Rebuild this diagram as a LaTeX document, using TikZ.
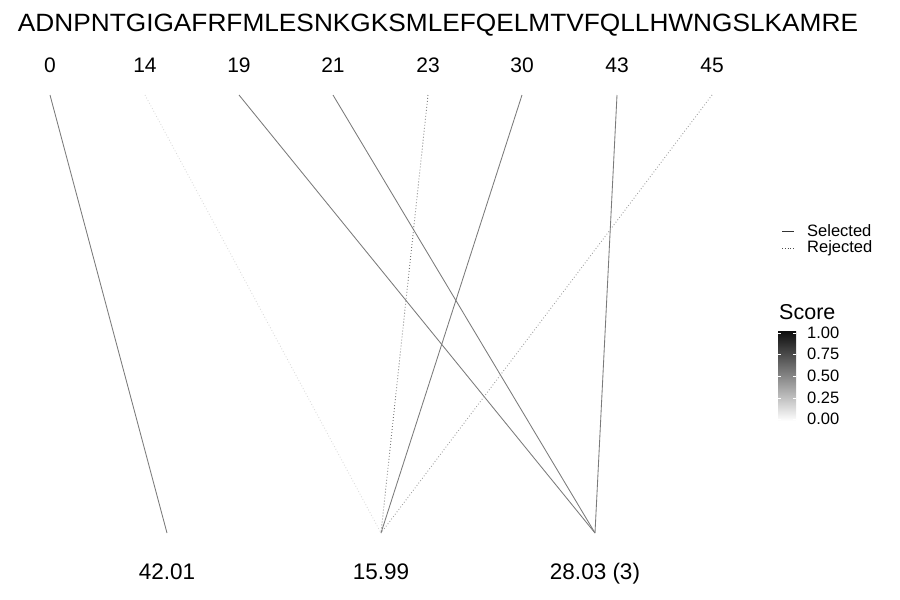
\documentclass[tikz,border=0pt]{standalone}
\usepackage{fontspec}
\setmainfont{Liberation Sans}
\begin{document}
\begin{tikzpicture}[x=1pt,y=-1pt,
  seltxt/.style={font=\fontsize{21}{24}\selectfont, inner sep=0pt, anchor=base},
  bottxt/.style={font=\fontsize{22.5}{24}\selectfont, inner sep=0pt, anchor=base},
  seqtxt/.style={font=\fontsize{25}{28}\selectfont, inner sep=0pt, anchor=base},
  legtxt/.style={font=\fontsize{16.5}{17}\selectfont, inner sep=0pt, anchor=west},
  sel/.style={line width=0.85pt},
  rej/.style={line width=0.9pt, dash pattern=on 0.8pt off 2.2pt}]
\useasboundingbox (0,0) rectangle (900,600);
\node[seqtxt, xscale=1.05] (seq) at (438,31) {ADNPNTGIGAFRFMLESNKGKSMLEFQELMTVFQLLHWNGSLKAMRE};
% top labels
\foreach \n/\x in {0/50,14/145,19/239,21/333,23/428,30/522,43/617,45/712}{
  \node[seltxt] (l\n) at (\x,72) {\n};
  \coordinate (t\n) at (\x,95);
}
% bottom
\node[bottxt] (b1) at (167,579) {42.01};
\node[bottxt] (b2) at (381,579) {15.99};
\node[bottxt] (b3) at (595,579) {28.03 (3)};
\coordinate (c1) at (167,533);
\coordinate (c2) at (381,533);
\coordinate (c3) at (595,533);
% connectors
\draw[sel, draw=black!52] (t0) -- (c1);
\draw[rej, draw=black!15] (t14) -- (c2);
\draw[sel, draw=black!52] (t19) -- (c3);
\draw[sel, draw=black!52] (t21) -- (c3);
\draw[rej, draw=black!55] (t23) -- (c2);
\draw[sel, draw=black!52] (t30) -- (c2);
\draw[sel, draw=black!52] (t43) -- (c3);
\draw[rej, draw=black!40] (t45) -- (c2);
% legend
\coordinate (ls1) at (782,231);
\coordinate (le1) at (794,231);
\coordinate (ls2) at (782,248);
\coordinate (le2) at (794,248);
\draw[line width=0.8pt, draw=black!80] (ls1) -- (le1);
\draw[line width=0.9pt, draw=black!70, dash pattern=on 0.8pt off 2pt] (ls2) -- (le2);
\node[legtxt] (lsel) at (807,231) {Selected};
\node[legtxt] (lrej) at (807,248.5) {Rejected};
% score colorbar
\node[font=\fontsize{21.5}{22}\selectfont, inner sep=0pt, anchor=west] (stitle) at (779,312) {Score};
\shade[top color=black!95, bottom color=white] (778,331) rectangle (796,421);
\foreach \v/\y in {1.00/333,0.75/354,0.50/376,0.25/398,0.00/419}{
  \draw[white, line width=0.5pt] (778,\y) -- (781,\y) (793,\y) -- (796,\y);
  \node[legtxt] at (807,\y) {\v};
}
\end{tikzpicture}
\end{document}
